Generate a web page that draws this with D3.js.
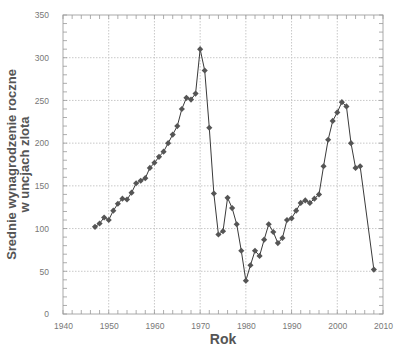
<!DOCTYPE html>
<html>
<head>
<meta charset="utf-8">
<script src="https://cdn.jsdelivr.net/npm/d3@7"></script>
<style>
  body { margin: 0; background: #fff; }
  svg text { font-family: "Liberation Sans", Arial, Helvetica, sans-serif; }
</style>
</head>
<body>
<div id="chart"></div>
<script>
// data
const years = [1947, 1948, 1949, 1950, 1951, 1952, 1953, 1954, 1955, 1956,
  1957, 1958, 1959, 1960, 1961, 1962, 1963, 1964, 1965, 1966,
  1967, 1968, 1969, 1970, 1971, 1972, 1973, 1974, 1975, 1976,
  1977, 1978, 1979, 1980, 1981, 1982, 1983, 1984, 1985, 1986,
  1987, 1988, 1989, 1990, 1991, 1992, 1993, 1994, 1995, 1996,
  1997, 1998, 1999, 2000, 2001, 2002, 2003, 2004, 2005, 2008];
const wages = [102, 106, 113, 110, 121, 129, 135, 134, 142, 153,
  156, 159, 171, 177, 184, 190, 200, 210, 220, 240,
  253, 251, 258, 310, 285, 218, 141, 93, 97, 136,
  124, 105, 74, 39, 57, 74, 68, 87, 105, 96,
  83, 89, 110, 112, 121, 130, 133, 130, 135, 140,
  173, 204, 226, 236, 248, 243, 200, 171, 173, 52];
const xTicks = [1940, 1950, 1960, 1970, 1980, 1990, 2000, 2010];
const yTicks = [0, 50, 100, 150, 200, 250, 300, 350];

const data = years.map((y, i) => ({year: y, value: wages[i]}));

const W = 400, H = 349;
const margin = {top: 15, right: 17, bottom: 35, left: 63},
  width = W - margin.left - margin.right,
  height = H - margin.top - margin.bottom;

const svg = d3.select("#chart")
  .append("svg")
    .attr("width", W)
    .attr("height", H)
  .append("g")
    .attr("transform", `translate(${margin.left},${margin.top})`);

const x = d3.scaleLinear().domain([1940, 2010]).range([0, width]);
const y = d3.scaleLinear().domain([0, 350]).range([height, 0]);

// dotted grid
svg.append("g")
  .selectAll("line.gx")
  .data(xTicks.slice(1, -1))
  .join("line")
    .attr("x1", d => x(d)).attr("x2", d => x(d))
    .attr("y1", 0).attr("y2", height)
    .attr("stroke", "#c8c8c8")
    .attr("stroke-dasharray", "1.5,1.5");
svg.append("g")
  .selectAll("line.gy")
  .data(yTicks.slice(1, -1))
  .join("line")
    .attr("y1", d => y(d)).attr("y2", d => y(d))
    .attr("x1", 0).attr("x2", width)
    .attr("stroke", "#c8c8c8")
    .attr("stroke-dasharray", "1.5,1.5");

// frame
svg.append("rect")
  .attr("width", width).attr("height", height)
  .attr("fill", "none")
  .attr("stroke", "#aaa")
  .attr("stroke-width", 1);

// minor ticks pointing inward on all four sides
const minorX = d3.range(1940, 2011, 2);
const minorY = d3.range(0, 351, 10);
const tick = 4;
const tg = svg.append("g").attr("stroke", "#999").attr("stroke-width", 0.8);
tg.selectAll("line.bx").data(minorX).join("line")
  .attr("x1", d => x(d)).attr("x2", d => x(d))
  .attr("y1", height).attr("y2", height - tick);
tg.selectAll("line.tx").data(minorX).join("line")
  .attr("x1", d => x(d)).attr("x2", d => x(d))
  .attr("y1", 0).attr("y2", tick);
tg.selectAll("line.ly").data(minorY).join("line")
  .attr("y1", d => y(d)).attr("y2", d => y(d))
  .attr("x1", 0).attr("x2", tick);
tg.selectAll("line.ry").data(minorY).join("line")
  .attr("y1", d => y(d)).attr("y2", d => y(d))
  .attr("x1", width).attr("x2", width - tick);

// axes labels only (ticks drawn above)
const xAxis = svg.append("g")
  .attr("transform", `translate(0, ${height})`)
  .call(d3.axisBottom(x).tickValues(xTicks).tickFormat(d3.format("d")).tickSize(0).tickPadding(9));
const yAxis = svg.append("g")
  .call(d3.axisLeft(y).tickValues(yTicks).tickSize(0).tickPadding(14));
[xAxis, yAxis].forEach(a => {
  a.select(".domain").remove();
  a.selectAll("text")
    .style("font-size", "8.5px")
    .attr("fill", "#777");
});

// the line
svg.append("path")
  .datum(data)
  .attr("fill", "none")
  .attr("stroke", "#3a3a3a")
  .attr("stroke-width", 1)
  .attr("d", d3.line()
    .x(d => x(d.year))
    .y(d => y(d.value)));

svg.selectAll("path.pt")
  .data(data)
  .join("path")
    .attr("class", "pt")
    .attr("transform", d => `translate(${x(d.year)},${y(d.value)})`)
    .attr("d", d3.symbol().type(d3.symbolDiamond2).size(24))
    .attr("fill", "#555");

// axis titles
svg.append("text")
  .attr("transform", "rotate(-90)")
  .attr("x", -(height / 2))
  .attr("y", -margin.left + 16)
  .style("text-anchor", "middle")
  .style("font-size", "13px")
  .style("font-weight", "bold")
  .attr("fill", "#555")
  .text("Srednie wynagrodzenie roczne");
svg.append("text")
  .attr("transform", "rotate(-90)")
  .attr("x", -(height / 2))
  .attr("y", -margin.left + 29)
  .style("text-anchor", "middle")
  .style("font-size", "13px")
  .style("font-weight", "bold")
  .attr("fill", "#555")
  .text("w uncjach zlota");

svg.append("text")
  .attr("x", width / 2)
  .attr("y", height + 30)
  .style("text-anchor", "middle")
  .style("font-size", "14px")
  .style("font-weight", "bold")
  .attr("fill", "#555")
  .text("Rok");
</script>
</body>
</html>
